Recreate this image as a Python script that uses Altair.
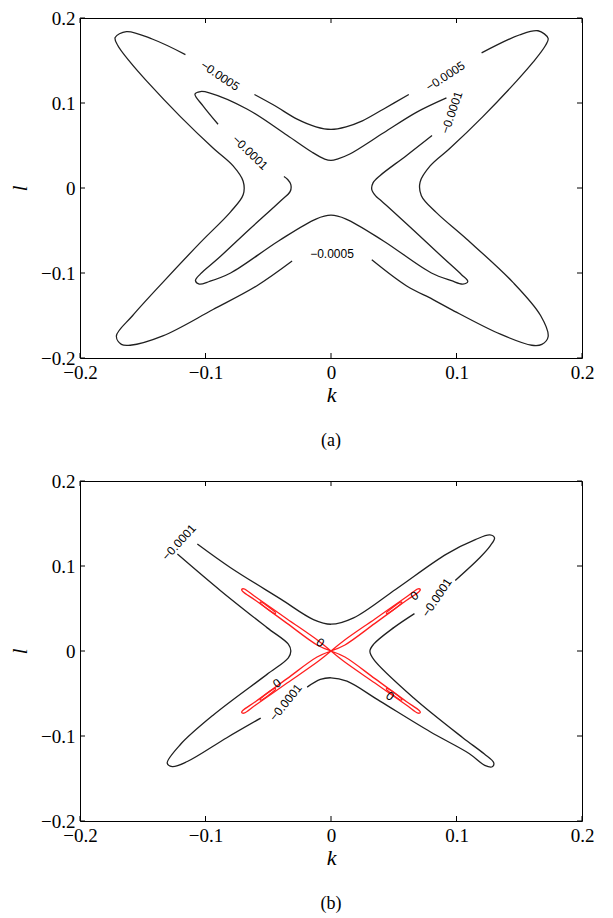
import altair as alt
import pandas as pd

# ---------------- tick values ----------------
TICKS = [-0.2, -0.1, 0.0, 0.1, 0.2]

# ---------------- panel (a) contour pieces (k, l) ----------------
# contour -0.0005 (outer X), three pieces between label gaps
A_OUT_1 = [(-0.116, 0.157), (-0.142, 0.175), (-0.163, 0.184), (-0.172, 0.177), (-0.170, 0.168),
           (-0.160, 0.148), (-0.147, 0.126), (-0.120, 0.084), (-0.094, 0.047), (-0.078, 0.026),
           (-0.070, 0.008), (-0.070, -0.008), (-0.080, -0.028), (-0.104, -0.064), (-0.134, -0.111),
           (-0.158, -0.150), (-0.171, -0.174), (-0.167, -0.184), (-0.160, -0.185), (-0.134, -0.174),
           (-0.094, -0.143), (-0.059, -0.115), (-0.031, -0.086)]
A_OUT_2 = [(0.0325, -0.0845), (0.060, -0.115), (0.081, -0.131), (0.096, -0.143), (0.135, -0.172),
           (0.160, -0.185), (0.168, -0.184), (0.173, -0.175), (0.167, -0.150), (0.145, -0.111),
           (0.108, -0.060), (0.084, -0.029), (0.072, -0.009), (0.071, 0.007), (0.079, 0.026),
           (0.095, 0.047), (0.121, 0.084), (0.148, 0.126), (0.161, 0.148), (0.171, 0.168),
           (0.173, 0.176), (0.165, 0.185), (0.150, 0.180), (0.120, 0.159)]
A_OUT_3 = [(0.062, 0.110), (0.042, 0.093), (0.025, 0.079), (0.012, 0.072), (0.0, 0.069),
           (-0.012, 0.072), (-0.027, 0.081), (-0.045, 0.097), (-0.061, 0.110)]
# contour -0.0001 (inner X), two pieces
A_IN_1 = [(0.0805, 0.0617), (0.060, 0.038), (0.039, 0.0145), (0.0335, 0.006), (0.0325, -0.002),
          (0.036, -0.010), (0.040, -0.015), (0.066, -0.050), (0.090, -0.083), (0.104, -0.102),
          (0.109, -0.110), (0.105, -0.113), (0.096, -0.109), (0.080, -0.100), (0.0415, -0.062),
          (0.012, -0.0365), (0.0, -0.032), (-0.012, -0.0365), (-0.0415, -0.062), (-0.080, -0.100),
          (-0.097, -0.110), (-0.105, -0.113), (-0.108, -0.109), (-0.104, -0.101), (-0.090, -0.083),
          (-0.066, -0.050), (-0.040, -0.015), (-0.0325, -0.004), (-0.032, 0.004), (-0.0345, 0.010),
          (-0.0375, 0.0135)]
A_IN_2 = [(-0.090, 0.075), (-0.102, 0.0966), (-0.1084, 0.1105), (-0.104, 0.1135), (-0.097, 0.112),
          (-0.067, 0.093), (-0.035, 0.062), (-0.015, 0.042), (-0.005, 0.034), (0.0, 0.0325),
          (0.005, 0.034), (0.015, 0.040), (0.042, 0.065), (0.068, 0.089), (0.092, 0.106)]

A_LABEL_TEXT = ["\u22120.0005", "\u22120.0005", "\u22120.0001", "\u22120.0001", "\u22120.0005"]
A_LABEL_K = [-0.0884, 0.0912, -0.0645, 0.0962, 0.0008]
A_LABEL_L = [0.132, 0.1315, 0.0418, 0.0887, -0.078]
A_LABEL_ANG = [34, 327, 44, 289, 0]

# ---------------- panel (b) contour pieces ----------------
# contour -0.0001 (black)
B_BLK_1 = [(-0.1065, 0.1259), (-0.080, 0.098), (-0.040, 0.061), (-0.014, 0.037), (0.0, 0.0315),
           (0.018, 0.039), (0.052, 0.073), (0.092, 0.114), (0.115, 0.131), (0.1266, 0.1365),
           (0.1303, 0.133), (0.127, 0.124), (0.1187, 0.110), (0.099, 0.083)]
B_BLK_2 = [(0.0665, 0.044), (0.050, 0.0275), (0.034, 0.008), (0.031, 0.0), (0.034, -0.0098),
           (0.0657, -0.055), (0.105, -0.102), (0.122, -0.121), (0.1297, -0.1315), (0.1285, -0.1362),
           (0.1225, -0.1345), (0.110, -0.1205), (0.079, -0.095), (0.039, -0.059), (0.0127, -0.0355),
           (0.0, -0.0315), (-0.0085, -0.0335), (-0.019, -0.0425)]
B_BLK_3 = [(-0.056, -0.079), (-0.083, -0.102), (-0.1145, -0.130), (-0.1265, -0.136), (-0.1305, -0.132),
           (-0.120, -0.110), (-0.0935, -0.075), (-0.051, -0.0275), (-0.034, -0.008), (-0.032, 0.0),
           (-0.034, 0.008), (-0.051, 0.0275), (-0.088, 0.071), (-0.1224, 0.1141)]
# contour 0 (red), four thin loops plus small inner loops
B_RED_TL = [(0, 0), (-0.0099, 0.0118), (-0.035, 0.0377), (-0.060, 0.0635), (-0.0695, 0.0732),
            (-0.0712, 0.0722), (-0.0703, 0.0700), (-0.060, 0.0594), (-0.035, 0.0325), (-0.0111, 0.0071), (0, 0)]
B_RED_TR = [(0, 0), (0.0099, 0.0118), (0.035, 0.0377), (0.060, 0.0635), (0.0695, 0.0732),
            (0.0712, 0.0722), (0.0703, 0.0700), (0.060, 0.0594), (0.035, 0.0325), (0.0111, 0.0071), (0, 0)]
B_RED_BL = [(0, 0), (-0.0099, -0.0118), (-0.035, -0.0377), (-0.060, -0.0635), (-0.0695, -0.0732),
            (-0.0712, -0.0722), (-0.0703, -0.0700), (-0.060, -0.0594), (-0.035, -0.0325), (-0.0111, -0.0071), (0, 0)]
B_RED_BR = [(0, 0), (0.0099, -0.0118), (0.035, -0.0377), (0.060, -0.0635), (0.0695, -0.0732),
            (0.0712, -0.0722), (0.0703, -0.0700), (0.060, -0.0594), (0.035, -0.0325), (0.0111, -0.0071), (0, 0)]
B_RED_TL_IN = [(-0.044, 0.0452), (-0.056, 0.0578), (-0.0565, 0.0570), (-0.0445, 0.0440), (-0.044, 0.0452)]
B_RED_TR_IN = [(0.044, 0.0452), (0.056, 0.0578), (0.0565, 0.0570), (0.0445, 0.0440), (0.044, 0.0452)]
B_RED_BL_IN = [(-0.044, -0.0452), (-0.056, -0.0578), (-0.0565, -0.0570), (-0.0445, -0.0440), (-0.044, -0.0452)]
B_RED_BR_IN = [(0.044, -0.0452), (0.056, -0.0578), (0.0565, -0.0570), (0.0445, -0.0440), (0.044, -0.0452)]

B_LABEL_TEXT = ["\u22120.0001", "\u22120.0001", "\u22120.0001", "0", "0", "0", "0"]
B_LABEL_K = [-0.1211, 0.0843, -0.0361, -0.0085, 0.0664, -0.043, 0.0471]
B_LABEL_L = [0.1279, 0.0629, -0.0606, 0.0098, 0.065, -0.0381, -0.0531]
B_LABEL_ANG = [312, 304, 309, 35, 325, 325, 35]

SERIF = "Liberation Serif"
W, H = 502, 340
TICK_PX = 5
LO, HI = -0.2, 0.2


def lines_frame(pieces):
    rows = []
    for sid, (grp, pts) in enumerate(pieces):
        for i, (k, l) in enumerate(pts):
            rows.append({"seg": sid, "grp": grp, "k": k, "l": l, "ord": i})
    return pd.DataFrame(rows)


def tick_frames():
    dk = (HI - LO) * TICK_PX / W
    dl = (HI - LO) * TICK_PX / H
    v = ([{"k": t, "l": LO, "l2": LO + dl} for t in TICKS] +
         [{"k": t, "l": HI, "l2": HI - dl} for t in TICKS])
    h = ([{"k": LO, "k2": LO + dk, "l": t} for t in TICKS] +
         [{"k": HI, "k2": HI - dk, "l": t} for t in TICKS])
    return pd.DataFrame(v), pd.DataFrame(h)


def make_axis(title, tpad):
    return alt.Axis(values=TICKS, format=".1~f", grid=False, ticks=False, domain=False,
                    labelFont=SERIF, labelFontSize=19, labelColor="black", labelPadding=5,
                    labelFlush=False, labelOverlap=False,
                    title=title, titleFont=SERIF, titleFontStyle="italic", titleFontSize=22,
                    titleFontWeight="normal", titleColor="black", titlePadding=tpad)


def panel(pieces, ltext, lk, ll, lang, caption):
    xs = alt.Scale(domain=[LO, HI], nice=False, zero=False)
    ys = alt.Scale(domain=[LO, HI], nice=False, zero=False)
    df = lines_frame(pieces)
    lines = alt.Chart(df).mark_line(interpolate="catmull-rom", strokeWidth=1.3, clip=True).encode(
        x=alt.X("k:Q", scale=xs, axis=make_axis("k", 2)),
        y=alt.Y("l:Q", scale=ys, axis=make_axis("l", 9)),
        color=alt.Color("grp:N", scale=alt.Scale(domain=["black", "red"], range=["#202020", "#ff1f1f"]),
                        legend=None),
        detail="seg:N", order="ord:Q")
    lab = pd.DataFrame({"t": ltext, "k": lk, "l": ll, "a": lang})
    labels = alt.Chart(lab).mark_text(font="Liberation Sans", fontSize=12, color="black").encode(
        x=alt.X("k:Q", scale=xs), y=alt.Y("l:Q", scale=ys), text="t:N",
        angle=alt.Angle("a:Q", scale=None))
    vdf, hdf = tick_frames()
    vt = alt.Chart(vdf).mark_rule(color="black", strokeWidth=1).encode(
        x=alt.X("k:Q", scale=xs), y=alt.Y("l:Q", scale=ys), y2="l2:Q")
    ht = alt.Chart(hdf).mark_rule(color="black", strokeWidth=1).encode(
        x=alt.X("k:Q", scale=xs), x2="k2:Q", y=alt.Y("l:Q", scale=ys))
    cap = alt.Chart(pd.DataFrame({"c": [caption]})).mark_text(font=SERIF, fontSize=18, color="black").encode(
        x=alt.value(W / 2), y=alt.value(H + 83), text="c:N")
    return alt.layer(lines, labels, vt, ht, cap).properties(width=W, height=H)


panel_a = panel([("black", A_OUT_1), ("black", A_OUT_2), ("black", A_OUT_3),
                 ("black", A_IN_1), ("black", A_IN_2)],
                A_LABEL_TEXT, A_LABEL_K, A_LABEL_L, A_LABEL_ANG, "(a)")
panel_b = panel([("black", B_BLK_1), ("black", B_BLK_2), ("black", B_BLK_3),
                 ("red", B_RED_TL), ("red", B_RED_TR), ("red", B_RED_BL), ("red", B_RED_BR),
                 ("red", B_RED_TL_IN), ("red", B_RED_TR_IN), ("red", B_RED_BL_IN), ("red", B_RED_BR_IN)],
                B_LABEL_TEXT, B_LABEL_K, B_LABEL_L, B_LABEL_ANG, "(b)")

chart = alt.vconcat(panel_a, panel_b, spacing=20).properties(
    padding={"left": 0, "top": 0, "right": 5, "bottom": 5}
).configure(
    background="white",
    view=alt.ViewConfig(stroke="black", strokeWidth=1),
)

chart.save("out.html", embed_options={"renderer": "svg", "actions": False})
